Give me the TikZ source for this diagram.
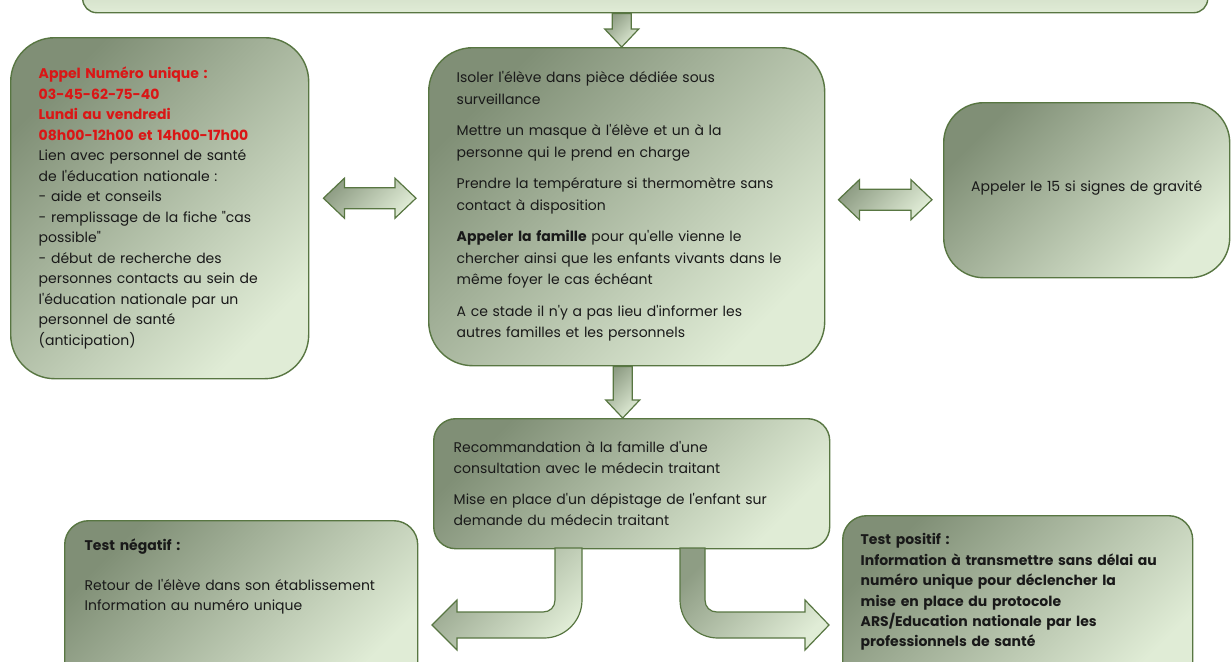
\documentclass[tikz,border=0pt]{standalone}
\usepackage{fontspec}
\setmainfont{Poppins}[Ligatures=TeXOff]
\usetikzlibrary{calc}

\definecolor{boxdark}{RGB}{128,143,118}
\definecolor{boxlight}{RGB}{224,236,214}
\definecolor{boxline}{RGB}{88,118,66}
\definecolor{alerte}{RGB}{218,22,22}
\definecolor{ink}{RGB}{25,25,25}

\tikzset{
  box/.style={draw=boxline, line width=0.7pt, top color=boxdark, bottom color=boxlight,
    shading angle=45, anchor=north west, text=ink, align=left,
    font=\fontsize{7}{10}\selectfont},
  blockarrow/.style={draw=boxline, line width=0.6pt, top color=boxdark!85!boxlight,
    bottom color=boxlight, shading angle=45}
}

% block arrow pointing down, x taken from the tip
\newcommand{\downblock}[2]{%
  \path[blockarrow] let \p1=#1, \p2=#2 in
    (\x2-4.75pt,\y1) -- (\x2+4.75pt,\y1) -- (\x2+4.75pt,\y2+9pt) -- (\x2+8.5pt,\y2+9pt)
    -- (\x2,\y2) -- (\x2-8.5pt,\y2+9pt) -- (\x2-4.75pt,\y2+9pt) -- cycle;}
% block arrow with two heads, y taken from the left tip
\newcommand{\twoway}[2]{%
  \path[blockarrow] let \p1=#1, \p2=#2 in
    (\x1,\y1) -- (\x1+10.5pt,\y1+10pt) -- (\x1+10.5pt,\y1+5.25pt) -- (\x2-10.5pt,\y1+5.25pt)
    -- (\x2-10.5pt,\y1+10pt) -- (\x2,\y1) -- (\x2-10.5pt,\y1-10pt) -- (\x2-10.5pt,\y1-5.25pt)
    -- (\x1+10.5pt,\y1-5.25pt) -- (\x1+10.5pt,\y1-10pt) -- cycle;}

\begin{document}
\begin{tikzpicture}[x=0.5pt, y=-0.5pt]
  \useasboundingbox (0,0) rectangle (1231,661);
  \clip (0,0) rectangle (1231,661);

  \node[box, rounded corners=7pt, minimum width=562.5pt, minimum height=26pt,
        top color=boxdark!35!boxlight] (haut) at (82,-40) {};

  \node[box, rounded corners=22pt, minimum width=149pt, minimum height=170.5pt,
        text width=121pt, inner xsep=14pt, font=\fontsize{7}{10.25}\selectfont] (lien) at (10,37)
    {\textcolor{alerte}{\textbf{Appel Numéro unique :}}\\
     \textcolor{alerte}{\textbf{03-45-62-75-40}}\\
     \textcolor{alerte}{\textbf{Lundi au vendredi}}\\
     \textcolor{alerte}{\textbf{08h00-12h00 et 14h00-17h00}}\\
     Lien avec personnel de santé\\
     de l'éducation nationale :\\
     - aide et conseils\\
     - remplissage de la fiche "cas\\
     possible"\\
     - début de recherche des\\
     personnes contacts au sein de\\
     l'éducation nationale par un\\
     personnel de santé\\
     (anticipation)};

  \node[box, rounded corners=22pt, minimum width=198pt, minimum height=159pt,
        text width=170pt, inner xsep=14pt, font=\fontsize{7}{10.75}\selectfont] (isoler) at (428,47)
    {Isoler l'élève dans pièce dédiée sous\\
     surveillance\\[5pt]
     Mettre un masque à l'élève et un à la\\
     personne qui le prend en charge\\[5pt]
     Prendre la température si thermomètre sans\\
     contact à disposition\\[5pt]
     \textbf{Appeler la famille} pour qu'elle vienne le\\
     chercher ainsi que les enfants vivants dans le\\
     même foyer le cas échéant\\[5pt]
     A ce stade il n'y a pas lieu d'informer les\\
     autres familles et les personnels};

  \node[box, rounded corners=20pt, minimum width=143pt, minimum height=87.5pt,
        text width=130pt, align=center, text depth=4pt] (gravite) at (943,102)
    {Appeler le 15 si signes de gravité};

  \node[box, rounded corners=11pt, minimum width=198pt, minimum height=65pt,
        text width=178pt, inner xsep=10pt, font=\fontsize{7}{10.5}\selectfont] (reco) at (433,418)
    {Recommandation à la famille d'une\\
     consultation avec le médecin traitant\\[5pt]
     Mise en place d'un dépistage de l'enfant sur\\
     demande du médecin traitant};

  \node[box, rounded corners=12pt, text width=156.5pt, inner xsep=10pt, inner ysep=9pt,
        text depth=60pt] (negatif) at (64,520)
    {\textbf{Test négatif :}\\[10pt]
     Retour de l'élève dans son établissement\\
     Information au numéro unique};

  \node[box, rounded corners=12pt, text width=157pt, inner xsep=9pt, inner ysep=9pt,
        text depth=64pt, font=\fontsize{7}{10.2}\selectfont\bfseries] (positif) at (842,515)
    {Test positif :\\
     Information à transmettre sans délai au\\
     numéro unique pour déclencher la\\
     mise en place du protocole\\
     ARS/Education nationale par les\\
     professionnels de santé};

  % arrows
  \downblock{(haut.south)}{([xshift=-2.5pt]isoler.north)}
  \downblock{(isoler.south)}{([xshift=-4.5pt]reco.north)}
  \twoway{([shift={(14,-10)}]lien.east)}{([xshift=-6pt]isoler.west)}
  \twoway{([shift={(13,-7)}]isoler.east)}{([xshift=-5.5pt]gravite.west)}

  \path[blockarrow] (582,548) -- (582,600) .. controls (582,621) and (565,638) .. (544,638)
    -- (457,638) -- (457,650) -- (432,625) -- (457,600) -- (457,612) -- (543,612)
    .. controls (550,612) and (555,607) .. (555,600) -- (555,548) -- cycle;
  \path[blockarrow] (680,548) -- (680,600) .. controls (680,621) and (697,638) .. (718,638)
    -- (805,638) -- (805,650) -- (829,625) -- (805,600) -- (805,612) -- (717,612)
    .. controls (710,612) and (705,607) .. (705,600) -- (705,548) -- cycle;
\end{tikzpicture}
\end{document}
